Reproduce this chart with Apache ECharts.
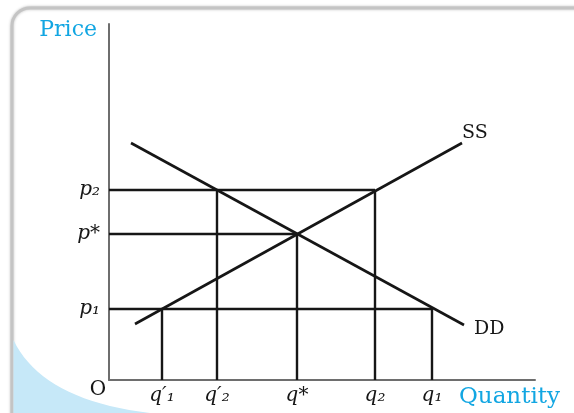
<!DOCTYPE html>
<html>
<head>
<meta charset="utf-8">
<script src="https://cdn.jsdelivr.net/npm/echarts@6/dist/echarts.min.js"></script>
<style>
  html, body { margin: 0; padding: 0; background: #fff; }
  #chart { width: 574px; height: 413px; }
</style>
</head>
<body>
<div id="chart"></div>
<script>
// quantity ticks: q'1, q'2, q*, q2, q1
const quantityTicks = [53, 108, 188, 266, 323]
const quantityLabels = ['q′₁', 'q′₂', 'q*', 'q₂', 'q₁']
// price at which each quantity guide stops
const quantityPrice = [71, 190, 146, 190, 71]
// price ticks: p1, p*, p2
const priceTicks = [71, 146, 190]
const priceLabels = ['p₁', 'p*', 'p₂']
// how far each price guide runs to the right
const priceReach = [323, 188, 266]
const supplyLine = [[26, 56], [353, 237]]
const demandLine = [[22, 237], [355, 55]]

const ink = '#161616'
const axisGray = '#6e6e6e'
const blue = '#12a6e2'
const serif = '"DejaVu Serif", "Liberation Serif", serif'

const labelOf = (ticks, labels) => (v) => {
  const i = ticks.indexOf(v)
  return i >= 0 ? labels[i] : ''
}

const guides = []
priceTicks.forEach((p, i) => {
  guides.push([[0, p], [priceReach[i], p]])
})
quantityTicks.forEach((q, i) => {
  guides.push([[q, quantityPrice[i]], [q, 0]])
})

const guideSeries = guides.map((g) => ({
  type: 'line',
  data: g,
  showSymbol: false,
  silent: true,
  lineStyle: { color: ink, width: 2.4 },
  z: 3,
}))

// light blue swoosh in the lower left corner of the card
const swoosh = [[13.5, 413]]
for (let t = 0; t <= 1.0001; t += 0.05) {
  const u = 1 - t
  swoosh.push([
    u * u * 13.5 + 2 * u * t * 42 + t * t * 150,
    u * u * 340 + 2 * u * t * 400 + t * t * 413,
  ])
}

const chart = echarts.init(document.getElementById('chart'))
const option = {
  animation: false,
  graphic: [
    {
      type: 'rect',
      z: -20,
      shape: { x: 12, y: 8, width: 620, height: 460, r: [18, 0, 0, 0] },
      style: {
        fill: '#fff',
        stroke: '#c4c4c4',
        lineWidth: 3,
        shadowBlur: 3,
        shadowColor: 'rgba(0,0,0,0.25)',
      },
    },
    {
      type: 'polygon',
      z: -19,
      shape: { points: swoosh },
      style: { fill: '#c6e8f8' },
    },
    {
      type: 'text',
      z: 10,
      x: 98,
      y: 390,
      style: {
        text: 'O',
        font: '20px ' + serif,
        fill: ink,
        align: 'center',
        verticalAlign: 'middle',
      },
    },
  ],
  grid: { left: 109, right: 39, top: 24, bottom: 33 },
  xAxis: {
    type: 'value',
    min: 0,
    max: 426,
    name: 'Quantity',
    nameLocation: 'end',
    nameGap: 25,
    nameTextStyle: {
      color: blue,
      fontFamily: serif,
      fontSize: 23,
      align: 'right',
      verticalAlign: 'top',
      padding: [6, 0, 0, 0],
    },
    axisLine: { lineStyle: { color: axisGray, width: 2 } },
    axisTick: { show: false },
    splitLine: { show: false },
    axisLabel: {
      customValues: quantityTicks,
      formatter: labelOf(quantityTicks, quantityLabels),
      color: ink,
      fontFamily: serif,
      fontStyle: 'italic',
      fontSize: 20,
      margin: 6,
    },
  },
  yAxis: {
    type: 'value',
    min: 0,
    max: 356,
    name: 'Price',
    nameLocation: 'end',
    nameGap: -6,
    nameTextStyle: {
      color: blue,
      fontFamily: serif,
      fontSize: 22,
      align: 'right',
      verticalAlign: 'middle',
      padding: [0, 12, 0, 0],
    },
    axisLine: { show: true, lineStyle: { color: axisGray, width: 2 } },
    axisTick: { show: false },
    splitLine: { show: false },
    axisLabel: {
      customValues: priceTicks,
      formatter: labelOf(priceTicks, priceLabels),
      color: ink,
      fontFamily: serif,
      fontStyle: 'italic',
      fontSize: 20,
      margin: 9,
    },
  },
  series: [
    {
      name: 'SS',
      type: 'line',
      data: supplyLine,
      showSymbol: false,
      lineStyle: { color: ink, width: 2.6 },
      z: 4,
      endLabel: {
        show: true,
        formatter: 'SS',
        color: ink,
        fontFamily: serif,
        fontSize: 19,
        offset: [-8, -10],
      },
    },
    {
      name: 'DD',
      type: 'line',
      data: demandLine,
      showSymbol: false,
      lineStyle: { color: ink, width: 2.6 },
      z: 4,
      endLabel: {
        show: true,
        formatter: 'DD',
        color: ink,
        fontFamily: serif,
        fontSize: 19,
        offset: [2, 4],
      },
    },
    ...guideSeries,
  ],
}
chart.setOption(option)
</script>
</body>
</html>
